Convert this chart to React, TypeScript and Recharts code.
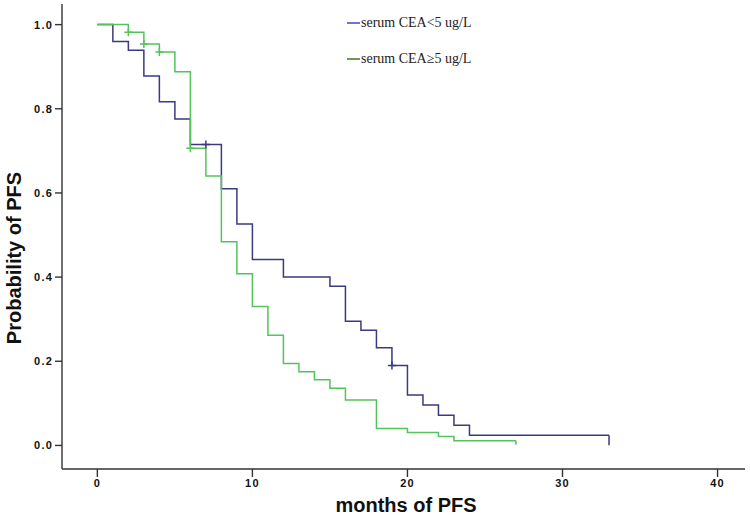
import React from "react";
import { ComposedChart, Line, XAxis, YAxis, Label } from "recharts";

// Kaplan-Meier: serum CEA<5 ug/L
const lowNames = "serum CEA<5 ug/L";
const lowTimes = [0, 1, 2, 3, 4, 5, 6, 7, 8, 9, 10, 12, 15, 16, 17, 18, 19, 20, 21, 22, 23, 24, 33];
const lowSurv = [1, 0.96, 0.939, 0.878, 0.817, 0.776, 0.715, 0.715, 0.61, 0.526, 0.442, 0.4, 0.378, 0.295, 0.274, 0.232, 0.19, 0.12, 0.096, 0.072, 0.048, 0.024, 0.024];
const lowCensored = [7, 19];
const lowLast = 33;

// Kaplan-Meier: serum CEA>=5 ug/L
const highName = "serum CEA\u22655 ug/L";
const highTimes = [0, 2, 3, 4, 5, 6, 7, 8, 9, 10, 11, 12, 13, 14, 15, 16, 18, 20, 22, 23, 27];
const highSurv = [1, 0.982, 0.954, 0.935, 0.888, 0.706, 0.64, 0.484, 0.408, 0.33, 0.262, 0.195, 0.175, 0.156, 0.136, 0.108, 0.04, 0.031, 0.021, 0.011, 0.011];
const highCensored = [2, 3, 4, 6];
const highLast = 27;

const xTicks = [0, 10, 20, 30, 40];
const yTicks = [0, 0.2, 0.4, 0.6, 0.8, 1.0];

const xTitle = "months of PFS";
const yTitle = "Probability of PFS";

const lowData = lowTimes.map((t, i) => ({ t, s: lowSurv[i] }));
const highData = highTimes.map((t, i) => ({ t, s: highSurv[i] }));

const LOW_COLOR = "#3a3a82";
const HIGH_COLOR = "#55c25c";
const AXIS_COLOR = "#333";
const SANS = "'Liberation Sans', Arial, sans-serif";
const SERIF = "'Liberation Serif', 'Times New Roman', serif";

const makeDot = (color: string, censored: number[], last: number, endLen: number) => (props: any) => {
  const { cx, cy, payload, index } = props;
  if (cx == null || cy == null) return <g key={`d${index}`} />;
  if (payload.t === last) {
    return <path key={`d${index}`} d={`M${cx},${cy}V${cy + endLen}`} stroke={color} strokeWidth={1.5} fill="none" />;
  }
  if (censored.includes(payload.t)) {
    return (
      <path
        key={`d${index}`}
        d={`M${cx - 4},${cy}H${cx + 4}M${cx},${cy - 4}V${cy + 4}`}
        stroke={color}
        strokeWidth={1.5}
        fill="none"
      />
    );
  }
  return <g key={`d${index}`} />;
};

const tickStyle = { fontFamily: SANS, fontWeight: 700, fontSize: 11, fill: "#111", letterSpacing: 1.2 };

export default function App() {
  return (
    <div style={{ position: "absolute", left: 0, top: 0, width: 750, height: 521, background: "#fff" }}>
      <ComposedChart width={750} height={521} margin={{ top: 4, right: 5, bottom: 0, left: 0 }}>
        <XAxis
          type="number"
          dataKey="t"
          domain={[-2.28, 41.77]}
          ticks={xTicks}
          allowDataOverflow
          height={52}
          tickSize={8}
          tickMargin={2}
          stroke={AXIS_COLOR}
          strokeWidth={1.4}
          tick={tickStyle}
          tickFormatter={(v: number) => String(v)}
        >
          <Label
            content={() => (
              <text x={406} y={505} textAnchor="middle" dominantBaseline="central" fontFamily={SANS} fontWeight={700} fontSize={20} fill="#111">
                {xTitle}
              </text>
            )}
          />
        </XAxis>
        <YAxis
          type="number"
          domain={[-0.056, 1.049]}
          ticks={yTicks}
          allowDataOverflow
          width={62}
          tickSize={7}
          tickMargin={2}
          stroke={AXIS_COLOR}
          strokeWidth={1.4}
          tick={tickStyle}
          tickFormatter={(v: number) => v.toFixed(1)}
        >
          <Label
            content={() => (
              <text
                x={14}
                y={258}
                textAnchor="middle"
                dominantBaseline="central"
                transform="rotate(-90 14 258)"
                fontFamily={SANS}
                fontWeight={700}
                fontSize={20}
                fill="#111"
              >
                {yTitle}
              </text>
            )}
          />
        </YAxis>
        <Line
          data={lowData}
          dataKey="s"
          type="stepAfter"
          stroke={LOW_COLOR}
          strokeWidth={1.5}
          dot={makeDot(LOW_COLOR, lowCensored, lowLast, 10)}
          activeDot={false}
          isAnimationActive={false}
          name={lowNames}
        />
        <Line
          data={highData}
          dataKey="s"
          type="stepAfter"
          stroke={HIGH_COLOR}
          strokeWidth={1.5}
          dot={makeDot(HIGH_COLOR, highCensored, highLast, 4)}
          activeDot={false}
          isAnimationActive={false}
          name={highName}
        />
      </ComposedChart>
      <div style={{ position: "absolute", left: 347, top: 13, fontFamily: SERIF, fontSize: 14, color: "#222" }}>
        {[
          { name: lowNames, color: "#7a70d2" },
          { name: highName, color: "#6e9a52" },
        ].map((it) => (
          <div key={it.name} style={{ display: "flex", alignItems: "center", height: 20, marginBottom: 16 }}>
            <span style={{ display: "inline-block", width: 13, height: 1.5, background: it.color, marginRight: 1 }} />
            <span>{it.name}</span>
          </div>
        ))}
      </div>
    </div>
  );
}
